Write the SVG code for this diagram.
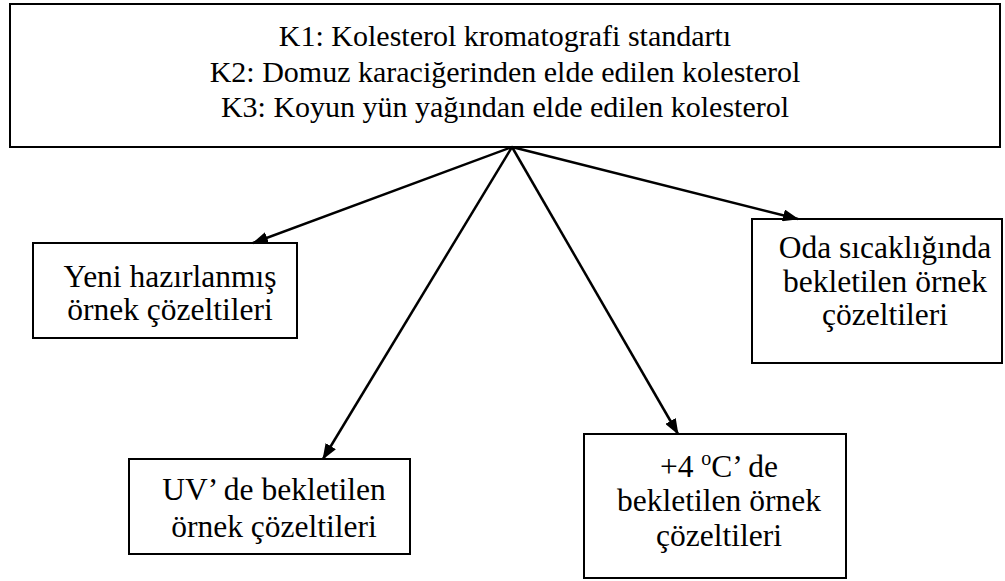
<svg xmlns="http://www.w3.org/2000/svg" width="1005" height="581" viewBox="0 0 1005 581">
<style>
.box{fill:#fff;stroke:#000;stroke-width:2}
text{font-family:'Liberation Serif','Times New Roman',serif;fill:#000;text-anchor:middle}
.t{font-size:31.5px}
.tt{font-size:30px}
.c{stroke:#000;stroke-width:2.5;fill:none;marker-end:url(#ah)}
</style>
<defs>
<marker id="ah" markerWidth="16" markerHeight="12" refX="15" refY="6" orient="auto" markerUnits="userSpaceOnUse">
<path d="M0,0 L16,6 L0,12 Z" fill="#000"/>
</marker>
</defs>
<rect width="1005" height="581" fill="#fff"/>
<g id="top">
<rect class="box" x="10" y="4" width="990" height="143"/>
<text class="tt" x="505" y="46">K1: Kolesterol kromatografi standartı</text>
<text class="tt" x="505" y="82">K2: Domuz karaciğerinden elde edilen kolesterol</text>
<text class="tt" x="505" y="117">K3: Koyun yün yağından elde edilen kolesterol</text>
</g>
<g id="yeni">
<rect class="box" x="33" y="243" width="264" height="95"/>
<text class="t" x="170" y="287">Yeni hazırlanmış</text>
<text class="t" x="170" y="320">örnek çözeltileri</text>
</g>
<g id="uv">
<rect class="box" x="129" y="459" width="281" height="95"/>
<text class="t" x="274" y="500">UV’ de bekletilen</text>
<text class="t" x="274" y="537">örnek çözeltileri</text>
</g>
<g id="dort">
<rect class="box" x="584" y="434" width="262" height="144"/>
<text class="t" x="719" y="477">+4 <tspan font-size="20" dy="-12">o</tspan><tspan dy="12">C’ de</tspan></text>
<text class="t" x="719" y="511">bekletilen örnek</text>
<text class="t" x="719" y="546">çözeltileri</text>
</g>
<g id="oda">
<rect class="box" x="752" y="219" width="250" height="144"/>
<text class="t" x="885" y="258">Oda sıcaklığında</text>
<text class="t" x="885" y="292">bekletilen örnek</text>
<text class="t" x="885" y="325">çözeltileri</text>
</g>
<g id="connectors">
<line class="c" x1="512" y1="147" x2="253" y2="243"/>
<line class="c" x1="512" y1="147" x2="323" y2="459"/>
<line class="c" x1="512" y1="147" x2="678" y2="434"/>
<line class="c" x1="512" y1="147" x2="798" y2="219"/>
</g>
</svg>
